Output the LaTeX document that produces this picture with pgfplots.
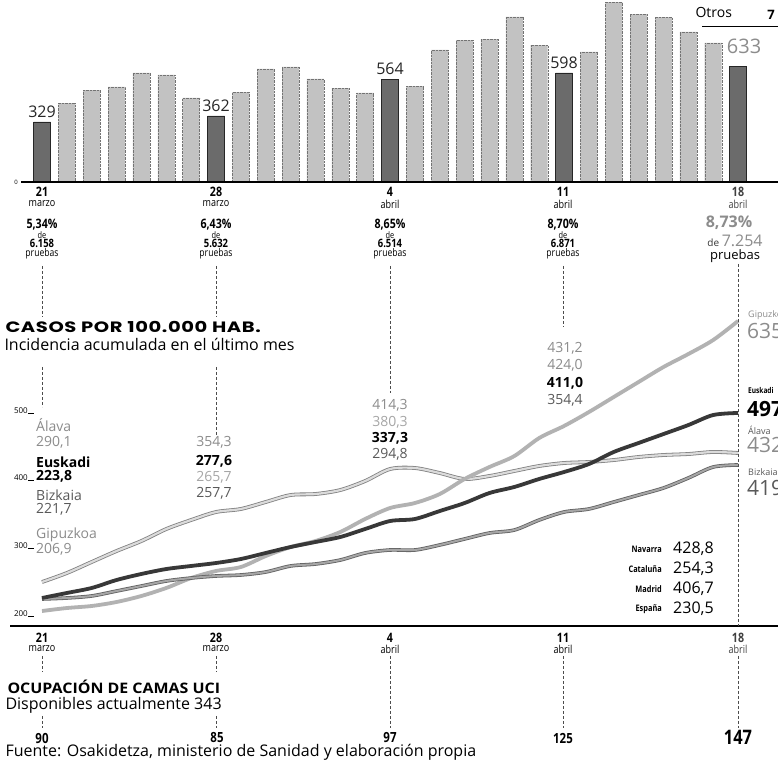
\documentclass[border=0pt]{standalone}
\usepackage{pgfplots}
\pgfplotsset{compat=1.18}
\usepackage{pgfplotstable}
\usepackage{fontspec}
\setmainfont{Open Sans}
\newfontfamily\cond[FakeStretch=0.82]{Open Sans}
\newfontfamily\wide[FakeStretch=1.1]{Open Sans}
\newfontfamily\headfont[FakeStretch=1.3,LetterSpace=4]{Poppins}
\newcommand\fs[1]{\fontsize{#1}{#1}\selectfont}

\definecolor{lightlab}{gray}{0.55}
\definecolor{midlab}{gray}{0.35}

% casos diarios (barras claras)
\pgfplotstableread{
d v
1 433
2 504
3 521
4 598
5 587
6 461
8 493
9 620
10 631
11 565
12 515
13 488
15 526
16 724
17 778
18 784
19 905
20 751
22 713
23 987
24 921
25 904
26 823
27 763
}\casos

% incidencia acumulada por 100.000 hab.
\pgfplotstableread{
d alava euskadi bizkaia gipuzkoa
0 247.4 223.8 222.3 204.6
1 260.7 231.2 223.8 209.0
2 277.0 238.6 226.8 212.0
3 293.2 250.4 234.1 217.9
4 308.0 259.3 241.5 226.8
5 325.7 266.6 248.9 238.6
6 339.0 271.1 253.3 253.3
7 350.8 275.5 256.3 263.7
8 355.3 281.4 257.8 269.6
9 365.6 290.3 262.2 285.8
10 375.9 299.1 271.1 299.1
11 377.4 306.5 274.0 308.0
12 383.3 313.9 279.9 321.3
13 396.6 325.7 290.3 340.5
14 414.3 337.5 294.7 356.7
15 415.8 340.5 294.7 364.1
16 408.4 352.3 302.1 377.4
17 399.6 364.1 311.0 399.6
18 404.0 378.9 319.8 417.3
19 411.4 387.8 324.2 433.5
20 418.8 399.6 339.0 460.1
21 423.2 409.9 350.8 477.9
22 424.7 421.7 355.3 498.5
23 427.6 439.5 365.6 520.7
24 432.1 452.8 375.9 542.9
25 435.0 466.0 386.3 565.0
26 436.5 479.3 401.1 584.2
27 439.5 494.1 417.3 604.9
28 438.0 497.1 420.3 633.0
}\incid

\begin{document}
\begin{tikzpicture}[x=1pt,y=1pt]
\fill[white] (0,0) rectangle (778,762);

% ---- casos diarios
\begin{axis}[at={(0pt,580pt)}, anchor=south west, scale only axis,
  width=778pt, height=182pt,
  xmin=-1.6895, xmax=29.606, ymin=0, ymax=998,
  hide axis, clip=false,
  /pgf/number format/assume math mode=true]
\addplot[ybar, bar width=17pt, bar shift=0pt, fill=black!24, draw=black!55, densely dotted]
  table[x=d, y=v] {\casos};
\addplot[ybar, bar width=17pt, bar shift=0pt, fill=black!58, draw=black!85,
  nodes near coords, nodes near coords style={font=\fs{16}, text=black!85, anchor=south, yshift=1pt}]
  coordinates {(0,329) (7,362) (14,564) (21,598)};
\addplot[ybar, bar width=17pt, bar shift=0pt, fill=black!58, draw=black!85,
  nodes near coords, nodes near coords style={font=\fs{20}, text=lightlab, anchor=south, xshift=6pt, yshift=9pt}]
  coordinates {(28,633)};
\end{axis}

% ---- incidencia acumulada
\begin{axis}[at={(33pt,136pt)}, anchor=south west, scale only axis,
  width=745pt, height=326pt,
  xmin=-0.362, xmax=29.606, ymin=182.44, ymax=664.0,
  axis line style={draw=none}, xtick=\empty,
  ytick={200,300,400,500},
  yticklabels={{200\rule{6pt}{0.5pt}},{300\rule{6pt}{0.5pt}},{400\rule{6pt}{0.5pt}},{500\rule{6pt}{0.5pt}}},
  major tick length=0pt, ytick pos=left,
  yticklabel style={anchor=base east, inner sep=0pt, xshift=1pt, yshift=-2pt, font=\fs{8}},
  clip=false]
\addplot[smooth, draw=black!50, line width=0.8pt, double=black!14, double distance=2.2pt]
  table[x=d, y=alava] {\incid};
\addplot[smooth, draw=black!30, line width=3.8pt]
  table[x=d, y=gipuzkoa] {\incid};
\addplot[smooth, draw=black!62, line width=0.8pt, double=black!35, double distance=2pt]
  table[x=d, y=bizkaia] {\incid};
\addplot[smooth, draw=black!78, line width=3.8pt]
  table[x=d, y=euskadi] {\incid};
\end{axis}

\begin{scope}[shift={(0,762)}, yscale=-1]
% ejes
\draw[line width=2.2pt] (21,182) -- (778,182);
\node[font=\fs{6}] at (16,182) {0};
\draw[line width=2.2pt] (10,626) -- (778,626);

% Otros
\node[anchor=west, font=\fs{14}] at (692,13) {Otros};
\node[font=\bfseries\fs{13}] at (771,15) {7};
\draw[line width=0.8pt] (702,26) -- (778,26);

% fechas y positividad
\begin{scope}[every node/.style={inner sep=0pt}]
\foreach \x/\n/\m in {42/21/marzo, 216/28/marzo, 390/4/abril, 563/11/abril}{
  \node[font=\cond\bfseries\fs{13}] at (\x,192) {\n};
  \node[font=\cond\fs{11}] at (\x,204) {\m};
  \node[font=\cond\fs{9}] at (\x,235) {de};
  \node[font=\cond\fs{10.5}] at (\x,253.5) {pruebas};
  \node[font=\cond\bfseries\fs{13}] at (\x,638) {\n};
  \node[font=\cond\fs{11}] at (\x,649) {\m};
}
\node[font=\cond\bfseries\fs{13}] at (42,225) {5,34\%};
\node[font=\cond\bfseries\fs{11.5}] at (42,243.5) {6.158};
\node[font=\cond\bfseries\fs{13}] at (216,225) {6,43\%};
\node[font=\cond\bfseries\fs{11.5}] at (216,243.5) {5.632};
\node[font=\cond\bfseries\fs{13}] at (390,225) {8,65\%};
\node[font=\cond\bfseries\fs{11.5}] at (390,243.5) {6.514};
\node[font=\cond\bfseries\fs{13}] at (563,225) {8,70\%};
\node[font=\cond\bfseries\fs{11.5}] at (563,243.5) {6.871};
\node[font=\cond\bfseries\fs{13}, text=black!75] at (738,192) {18};
\node[font=\cond\fs{11}, text=black!75] at (738,204) {abril};
\node[font=\cond\bfseries\fs{13}, text=black!75] at (738,638) {18};
\node[font=\cond\fs{11}, text=black!75] at (738,649) {abril};
\node[font=\bfseries\fs{16}, text=lightlab] at (729,223) {8,73\%};
\node[font=\fs{16}, text=lightlab] at (735,241) {{\fs{10}\color{black!80}de }7.254};
\node[font=\fs{13}] at (735,256) {pruebas};
\end{scope}

% lineas de referencia
\begin{scope}[densely dashed, line width=0.6pt, black!70]
\draw (42,266) -- (42,317); \draw (42,367) -- (42,407);
\draw (216,266) -- (216,317); \draw (216,367) -- (216,437);
\draw (390,266) -- (390,393);
\draw (563,266) -- (563,327);
\draw (738,264) -- (738,626);
\draw (42,656) -- (42,672); \draw (42,716) -- (42,728);
\draw (216,656) -- (216,672); \draw (216,716) -- (216,728);
\draw (390,656) -- (390,728);
\draw (563,656) -- (563,728);
\draw (738,656) -- (738,728);
\end{scope}

% titulo incidencia
\node[anchor=west, font=\headfont\bfseries\fs{15}] at (2,327) {CASOS POR 100.000 HAB.};
\node[anchor=west, font=\fs{16}] at (1,344) {Incidencia acumulada en el último mes};

% etiquetas 21 marzo
\begin{scope}[every node/.style={anchor=west, font=\fs{14}, inner sep=0pt}]
\node[text=lightlab] at (36,425) {Álava};
\node[text=lightlab] at (36,442) {290,1};
\node[font=\bfseries\fs{14}] at (36,462) {Euskadi};
\node[font=\bfseries\fs{14}] at (36,476) {223,8};
\node[text=midlab] at (36,495) {Bizkaia};
\node[text=midlab] at (36,509) {221,7};
\node[text=lightlab] at (36,535) {Gipuzkoa};
\node[text=lightlab] at (36,549) {206,9};
\end{scope}

% etiquetas semanales
\begin{scope}[every node/.style={font=\fs{14}, inner sep=0pt}]
\node[text=lightlab] at (214,442) {354,3};
\node[font=\bfseries\fs{14}] at (214,461) {277,6};
\node[text=black!35] at (214,477) {265,7};
\node[text=midlab] at (214,493) {257,7};
\node[text=lightlab] at (390,405) {414,3};
\node[text=black!35] at (390,422) {380,3};
\node[font=\bfseries\fs{14}] at (390,438) {337,3};
\node[text=midlab] at (390,454) {294,8};
\node[text=lightlab] at (565,348) {431,2};
\node[text=lightlab] at (565,365) {424,0};
\node[font=\bfseries\fs{14}] at (565,383) {411,0};
\node[text=midlab] at (565,400) {354,4};
\end{scope}

% etiquetas 18 abril
\begin{scope}[every node/.style={anchor=west, inner sep=0pt}]
\node[font=\fs{9}, text=lightlab] at (748,315) {Gipuzkoa};
\node[font=\fs{21}, text=lightlab] at (747,331) {635};
\node[font=\cond\bfseries\fs{8}] at (748,391) {Euskadi};
\node[font=\bfseries\fs{21}] at (747,409) {497};
\node[font=\fs{9}, text=midlab] at (748,430) {Álava};
\node[font=\fs{21}, text=lightlab] at (747,445) {432};
\node[font=\fs{9}, text=midlab] at (748,472) {Bizkaia};
\node[font=\fs{21}, text=midlab] at (747,488) {419};
\end{scope}

% otras comunidades
\foreach \y/\c/\v in {549/Navarra/{428,8}, 569/Cataluña/{254,3}, 589/Madrid/{406,7}, 609/España/{230,5}}{
  \node[anchor=east, font=\cond\bfseries\fs{9}, inner sep=0pt] at (662,\y) {\c};
  \node[anchor=west, font=\fs{16}, inner sep=0pt] at (673,\y) {\v};
}

% UCI
\node[anchor=west, font=\wide\bfseries\fs{14.5}] at (4,687) {OCUPACIÓN DE CAMAS UCI};
\node[anchor=west, font=\fs{16}] at (2,705) {Disponibles actualmente 343};
\node[font=\cond\bfseries\fs{14}] at (42,738) {90};
\node[font=\cond\bfseries\fs{14}] at (217,738) {85};
\node[font=\cond\bfseries\fs{14}] at (390,738) {97};
\node[font=\cond\bfseries\fs{14}] at (563,738) {125};
\node[font=\cond\bfseries\fs{20}] at (738,737) {147};
\node[anchor=west, font=\fs{16}] at (2,752) {Fuente: Osakidetza, ministerio de Sanidad y elaboración propia};
\end{scope}

\pgfresetboundingbox
\useasboundingbox (0,0) rectangle (778,762);
\end{tikzpicture}
\end{document}
